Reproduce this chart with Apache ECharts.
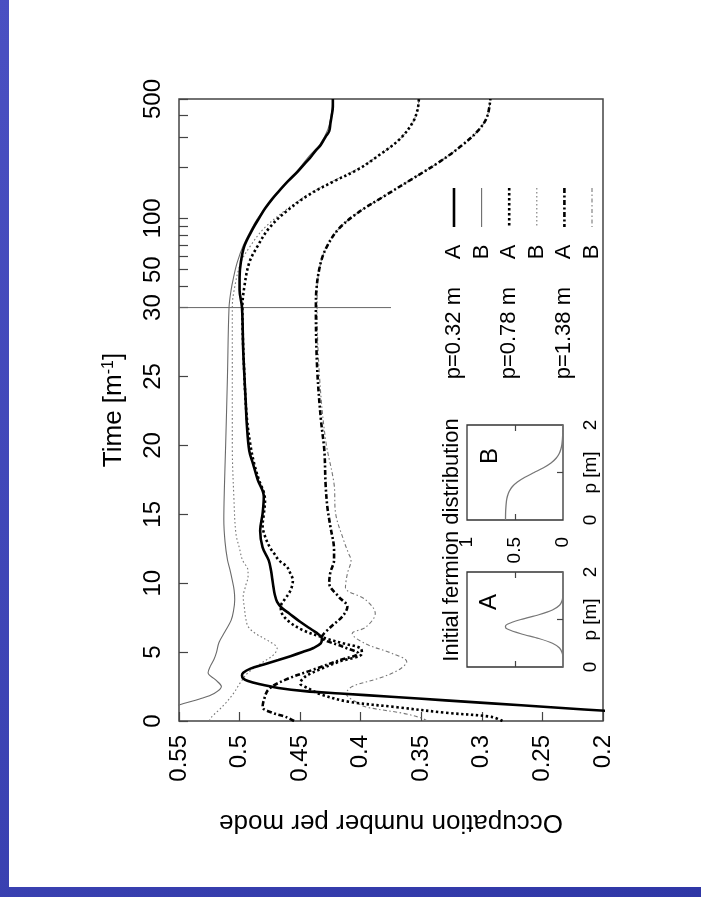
<!DOCTYPE html>
<html><head><meta charset="utf-8">
<script src="https://cdn.jsdelivr.net/npm/echarts@6/dist/echarts.min.js"></script>
<style>html,body{margin:0;padding:0;background:#4047b6;} #chart{width:701px;height:897px;}</style>
</head><body><div id="chart"></div><script>
// ---------------- data ----------------
// time axis: linear 0..30, logarithmic 30..500
const timeTickValues  = [0,5,10,15,20,25,30,40,50,60,70,80,90,100,200,300,400,500];
const timeLabelValues = [0,5,10,15,20,25,30,50,100,500];
const occTickValues   = [0.2,0.25,0.3,0.35,0.4,0.45,0.5,0.55];

const timeA032 = [0,0.68,1.0,1.28,1.5,1.76,2.0,2.17,2.4,2.68, 2.9,3.09,3.3,3.5,3.8,4.1,4.42,4.7,5.0,5.3, 5.63,6.0,6.3,6.6,7.2,7.8,8.2,8.65,9.2,9.7, 10.3,10.9,11.67,12.6,13.8,15.05,16.3,17.5,18.7,19.6, 21.5,23.3,25,26.9,30,38,45,55,69,87, 100,114,130,143,165,188,210,225,250,269, 300,324,360,397,450,500];
const occA032  = [0.07,0.188,0.243,0.292,0.330,0.375,0.417,0.446,0.468,0.484, 0.493,0.497,0.498,0.497,0.491,0.480,0.468,0.458,0.448,0.439, 0.433,0.432,0.435,0.440,0.450,0.459,0.465,0.469,0.471,0.472, 0.473,0.474,0.476,0.481,0.483,0.481,0.480,0.485,0.489,0.492, 0.494,0.495,0.496,0.497,0.498,0.500,0.500,0.499,0.496,0.489, 0.484,0.479,0.473,0.468,0.460,0.452,0.446,0.442,0.437,0.433, 0.429,0.426,0.425,0.424,0.423,0.423];

const timeB032 = [0,1.16,1.6,2.0,2.5,3.0,3.5,4.0,4.5,5.0, 5.7,6.5,7.3,8.0,8.8,9.5,10.2,11.0,11.7,13.0, 14.6,17,20,25,30,38,45,55,69,87, 100,114,137,163,195,234,269,333,417,500];
const occB032  = [0.585,0.55,0.533,0.521,0.515,0.520,0.526,0.524,0.521,0.519, 0.517,0.512,0.507,0.505,0.504,0.5045,0.506,0.508,0.510,0.512, 0.513,0.5125,0.5115,0.510,0.5087,0.507,0.505,0.502,0.497,0.490, 0.485,0.479,0.470,0.461,0.451,0.442,0.434,0.427,0.424,0.423];

const timeA078 = [0,0.3,0.6,1.0,1.4,1.9,2.4,2.73,3.2,3.7, 4.3,4.9,5.27,5.6,6.0,6.6,7.2,7.8,8.3,8.8, 9.3,9.7,10.2,10.7,11.2,11.67,12.1,12.6,13.4,14.2, 15.0,16.0,16.6,17.5,18.7,20,22,25,30,40, 55,69,87,109,137,163,195,234,290,365, 435,500];
const occA078  = [0.283,0.292,0.33,0.37,0.41,0.432,0.444,0.450,0.446,0.435, 0.418,0.399,0.400,0.413,0.429,0.448,0.459,0.465,0.466,0.463, 0.459,0.457,0.456,0.458,0.461,0.4676,0.471,0.475,0.479,0.481, 0.480,0.479,0.480,0.484,0.488,0.491,0.494,0.496,0.4977,0.496, 0.492,0.485,0.476,0.462,0.443,0.4234,0.4014,0.385,0.368,0.357, 0.353,0.352];

const timeB078 = [0,0.3,0.8,1.3,2.0,2.7,3.5,4.2,4.8,5.27, 5.8,6.3,6.83,7.5,8.2,9.0,9.8,10.5,10.9,11.7, 12.5,13.6,16,20,25,30,38,55,69,87, 109,137,163,195,234,290,365,435,500];
const occB078  = [0.525,0.523,0.517,0.5115,0.505,0.500,0.493,0.482,0.472,0.469, 0.476,0.486,0.4928,0.495,0.496,0.497,0.495,0.493,0.493,0.4977, 0.500,0.503,0.5046,0.506,0.506,0.506,0.5045,0.499,0.491,0.480, 0.464,0.444,0.4245,0.4025,0.385,0.368,0.357,0.353,0.352];

const timeA138 = [0,0.3,0.6,1.0,1.5,2.3,3.0,3.7,4.4,4.9, 5.4,6.1,6.8,7.6,8.3,9.0,10.0,10.8,11.67,12.4, 14.1,15.5,17.2,19.6,22,25.7,30,38,55,69, 87,109,137,171,214,269,333,397,500];
const occA138  = [0.455,0.462,0.473,0.481,0.480,0.476,0.462,0.440,0.418,0.402, 0.415,0.432,0.425,0.415,0.411,0.418,0.426,0.425,0.422,0.422, 0.425,0.4275,0.429,0.430,0.433,0.436,0.437,0.4366,0.433,0.4276, 0.418,0.4014,0.379,0.357,0.335,0.316,0.302,0.2955,0.293];

const timeB138 = [0,0.19,0.56,1.0,1.28,2.0,2.5,3.1,3.7,4.3, 4.9,5.6,6.35,6.8,7.8,8.8,9.7,10.7,11.67,12.15, 13.1,15.05,17.2,20.4,25,30,38,55,69,87, 109,137,171,214,269,333,397,500];
const occB138  = [0.345,0.349,0.365,0.395,0.402,0.412,0.407,0.385,0.3687,0.362, 0.374,0.396,0.407,0.396,0.388,0.396,0.4126,0.411,0.408,0.410, 0.414,0.4207,0.422,0.429,0.434,0.436,0.436,0.433,0.4276,0.418, 0.4014,0.379,0.357,0.335,0.316,0.302,0.2955,0.293];

// vertical marker at t = 30 (end of linear part)
const markerTime = [30, 30];
const markerOcc  = [0.55, 0.375];

// inset: initial fermion distributions
const insetAp = [0,0.2,0.3,0.4,0.5,0.6,0.7,0.8,0.85,0.9,1.0,1.1,1.2,1.3,1.4,1.5,1.7,2.0];
const insetAv = [0,0,0.009,0.036,0.11,0.252,0.439,0.58,0.6,0.58,0.439,0.252,0.11,0.036,0.009,0.002,0,0];
const insetBp = [0,0.2,0.4,0.5,0.6,0.7,0.8,0.9,1.0,1.1,1.2,1.3,1.4,1.5,1.6,1.8,2.0];
const insetBv = [0.599,0.597,0.589,0.579,0.561,0.529,0.475,0.397,0.3,0.203,0.125,0.072,0.039,0.021,0.011,0.003,0.001];

const legendTitles = ['p=0.32 m','','p=0.78 m','','p=1.38 m',''];
const legendTags   = ['A','B','A','B','A','B'];

// ---------------- styles ----------------
const FONT = '"Liberation Sans", Arial, Helvetica, sans-serif';
const LOG_K = 5.38;
function tPos(t){ return t <= 30 ? t : 30 + LOG_K*Math.log(t/30); }

const styles = [
  {color:'#000', width:2.6, type:'solid'},
  {color:'#6a6a6a', width:1.1, type:'solid'},
  {color:'#000', width:2.6, type:[2.4,2.6]},
  {color:'#777', width:1.1, type:[1.6,2.4]},
  {color:'#000', width:2.6, type:[5,2.5,2,2.5]},
  {color:'#777', width:1.1, type:[4,2.5,1.5,2.5]}
];
const curves = [
  [timeA032, occA032], [timeB032, occB032],
  [timeA078, occA078], [timeB078, occB078],
  [timeA138, occA138], [timeB138, occB138]
];
const drawOrder = [1,3,5,0,2,4];

const series = [];
drawOrder.forEach(i => {
  const [ts, os] = curves[i];
  series.push({
    name: legendTitles[i] + ' ' + legendTags[i], type:'line', xAxisIndex:0, yAxisIndex:0,
    data: ts.map((t,k)=>[os[k], tPos(t)]), showSymbol:false, smooth:0.35, clip:true,
    lineStyle:{color:styles[i].color, width:styles[i].width, type:styles[i].type, cap:'butt'},
    emphasis:{disabled:true}, silent:true, z: 3
  });
});
series.push({
  type:'line', xAxisIndex:0, yAxisIndex:0, data: markerTime.map((t,k)=>[markerOcc[k], tPos(t)]),
  showSymbol:false, lineStyle:{color:'#666', width:1}, silent:true, z:2
});
series.push({
  type:'line', xAxisIndex:1, yAxisIndex:1, data: insetAp.map((p,k)=>[insetAv[k], p]),
  showSymbol:false, smooth:0.3, clip:true, lineStyle:{color:'#777', width:1.3}, silent:true
});
series.push({
  type:'line', xAxisIndex:3, yAxisIndex:2, data: insetBp.map((p,k)=>[insetBv[k], p]),
  showSymbol:false, smooth:0.3, clip:true, lineStyle:{color:'#777', width:1.3}, silent:true
});

const tickStyle = {color:'#444', width:1.2};
function insetX(grid, pos, labels){
  return {type:'value', gridIndex:grid, min:0, max:1, inverse:true, position:pos,
    axisLine:{show:false}, splitLine:{show:false},
    axisTick:{inside:true, length:6, customValues:[0.5], lineStyle:tickStyle},
    axisLabel: labels ? {customValues:[0,0.5,1], rotate:90, margin:17, fontSize:19, color:'#000', fontFamily:FONT} : {show:false}};
}
function insetY(grid){
  return {type:'value', gridIndex:grid, min:0, max:2, position:'right',
    axisLine:{show:false}, splitLine:{show:false},
    axisTick:{inside:true, length:6, customValues:[1], lineStyle:tickStyle},
    axisLabel:{customValues:[0,2], rotate:90, margin:18, fontSize:19, color:'#000', fontFamily:FONT},
    name:'p [m]', nameLocation:'middle', nameRotate:90, nameGap:18, nameMoveOverlap:false,
    nameTextStyle:{fontSize:19, color:'#000', fontFamily:FONT}};
}

// legend graphics (rotated like the figure)
const graphic = [
  {type:'rect', left:9, top:0, shape:{width:692, height:887}, style:{fill:'#fff'}, z:-10, silent:true},
  {type:'text', x:452, y:540, rotation:Math.PI/2, z:10,
   style:{text:'Initial fermion distribution', fontSize:22, fontFamily:FONT, fill:'#000', align:'center', verticalAlign:'middle'}},
  {type:'text', x:489, y:602, rotation:Math.PI/2, z:10,
   style:{text:'A', fontSize:24, fontFamily:FONT, fill:'#000', align:'center', verticalAlign:'middle'}},
  {type:'text', x:490, y:456, rotation:Math.PI/2, z:10,
   style:{text:'B', fontSize:24, fontFamily:FONT, fill:'#000', align:'center', verticalAlign:'middle'}}
];
legendTags.forEach((tag,i) => {
  const x = 454 + i*27.6;
  if (legendTitles[i]) graphic.push({type:'text', x:x, y:287, rotation:Math.PI/2, z:10,
    style:{text:legendTitles[i], fontSize:22, fontFamily:FONT, fill:'#000', align:'right', verticalAlign:'middle'}});
  graphic.push({type:'text', x:x, y:252, rotation:Math.PI/2, z:10,
    style:{text:tag, fontSize:22, fontFamily:FONT, fill:'#000', align:'center', verticalAlign:'middle'}});
  graphic.push({type:'line', z:10, shape:{x1:x, y1:188, x2:x, y2:227},
    style:{stroke:styles[i].color, lineWidth:styles[i].width, lineDash: styles[i].type==='solid'? null : styles[i].type}});
});

const option = {
  animation:false,
  backgroundColor:{type:'linear', x:0, y:0, x2:1, y2:1, colorStops:[{offset:0, color:'#4a50c2'},{offset:1, color:'#2f37a6'}]},
  textStyle:{fontFamily:FONT},
  grid:[
    {left:179, top:99, width:424, height:622, show:true, borderColor:'#444', borderWidth:1.5, backgroundColor:'rgba(0,0,0,0)'},
    {left:467, top:572, width:96, height:95, show:true, borderColor:'#333', borderWidth:1.3, backgroundColor:'rgba(0,0,0,0)'},
    {left:467, top:425, width:96, height:95, show:true, borderColor:'#333', borderWidth:1.3, backgroundColor:'rgba(0,0,0,0)'}
  ],
  xAxis:[
    {type:'value', gridIndex:0, min:0.2, max:0.55, inverse:true, position:'bottom',
     axisLine:{show:false}, splitLine:{show:false},
     axisTick:{inside:true, length:9, customValues:occTickValues, lineStyle:tickStyle},
     axisLabel:{customValues:occTickValues, rotate:90, margin:14, fontSize:24, color:'#000', fontFamily:FONT,
       formatter:v => String(+(+v).toFixed(2))},
     name:'Occupation number per mode', nameLocation:'middle', nameGap:88, nameRotate:180, nameMoveOverlap:false,
     nameTextStyle:{fontSize:26, color:'#000', fontFamily:FONT}},
    insetX(1,'bottom',false), insetX(1,'top',false),
    insetX(2,'bottom',true), insetX(2,'top',false)
  ],
  yAxis:[
    {type:'value', gridIndex:0, min:0, max:tPos(500), position:'left',
     axisLine:{show:false}, splitLine:{show:false},
     axisTick:{inside:true, length:9, customValues:timeTickValues.map(tPos), lineStyle:tickStyle},
     axisLabel:{customValues:timeLabelValues.map(tPos), rotate:90, margin:14, fontSize:24, color:'#000', fontFamily:FONT,
       formatter:v => { const i = timeLabelValues.findIndex(t => Math.abs(tPos(t)-v) < 1e-6); return i>=0 ? String(timeLabelValues[i]) : ''; }},
     name:'{a|Time [m}{s|-1}{a|]}', nameLocation:'middle', nameGap:52, nameRotate:90, nameMoveOverlap:false,
     nameTextStyle:{color:'#000', fontFamily:FONT, rich:{a:{fontSize:26, fontFamily:FONT, color:'#000'}, s:{fontSize:16, fontFamily:FONT, color:'#000', verticalAlign:'top'}}}},
    insetY(1), insetY(2)
  ],
  series: series,
  graphic: graphic
};
const chart = echarts.init(document.getElementById('chart'));
chart.setOption(option);
</script></body></html>
